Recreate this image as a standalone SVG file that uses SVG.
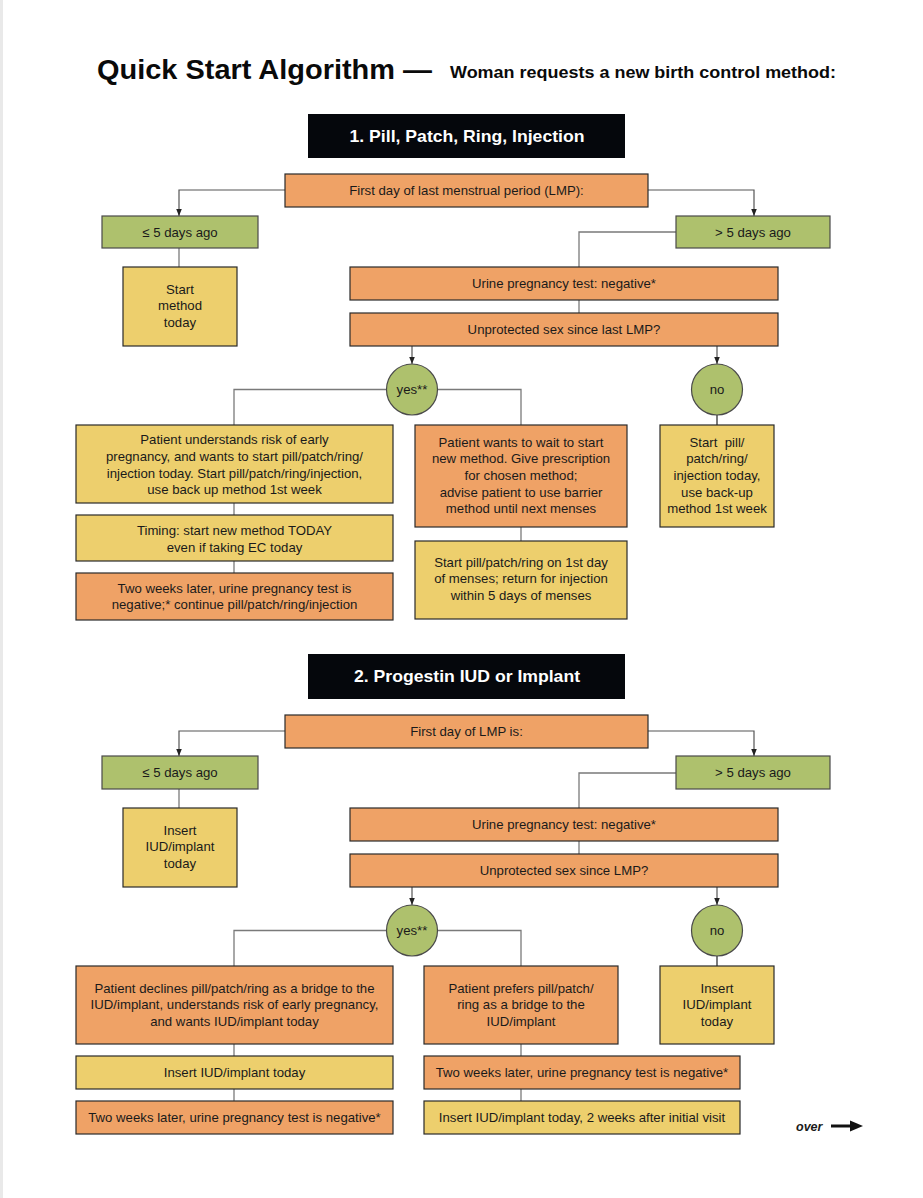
<svg xmlns="http://www.w3.org/2000/svg" width="923" height="1198" viewBox="0 0 923 1198">
<defs>
<style>
.t{font-family:"Liberation Sans",Arial,sans-serif;font-size:13.2px;fill:#1a1a1a;text-anchor:middle}
.h{font-family:"Liberation Sans",Arial,sans-serif;font-weight:bold;fill:#ffffff;text-anchor:middle}
.o{fill:#EFA266;stroke:#2a2a2a;stroke-width:1.2}
.g{fill:#AEC16D;stroke:#4a4a4a;stroke-width:1.2}
.y{fill:#EDCF6D;stroke:#2a2a2a;stroke-width:1.2}
.k{fill:#05070c}
.c{fill:none;stroke:#7a7a7a;stroke-width:1.3}
.ca{fill:none;stroke:#555;stroke-width:1.2;marker-end:url(#ah)}
</style>
<marker id="ah" viewBox="0 0 10 10" refX="10" refY="5" markerWidth="7" markerHeight="9" markerUnits="userSpaceOnUse" orient="auto">
<path d="M0,1 L10,5 L0,9 z" fill="#222"/>
</marker>
</defs>
<rect x="0" y="0" width="923" height="1198" fill="#ffffff"/>
<rect x="0" y="0" width="3" height="1198" fill="#e9e9e9"/>

<g id="title">
<text x="97" y="79" font-family="'Liberation Sans',Arial,sans-serif" font-weight="bold" font-size="28" fill="#0a0a0a" textLength="335" lengthAdjust="spacingAndGlyphs">Quick Start Algorithm —</text>
<text x="450" y="78" font-family="'Liberation Sans',Arial,sans-serif" font-weight="bold" font-size="17" fill="#0a0a0a" textLength="386" lengthAdjust="spacingAndGlyphs">Woman requests a new birth control method:</text>
</g>

<g id="connectors">
<path class="ca" d="M285,190 H179 V216"/>
<path class="ca" d="M648,190 H754 V216"/>
<path class="c" d="M179,248 V267"/>
<path class="c" d="M676,232 H579 V267"/>
<path class="c" d="M579,300 V313"/>
<path class="ca" d="M412,346 V364"/>
<path class="ca" d="M717,346 V364"/>
<path class="c" d="M386,389.5 H234 V425"/>
<path class="c" d="M438,389.5 H521 V425"/>
<path class="c" d="M717,415 V425" style="stroke:#333"/>
<path class="c" d="M234,503 V515"/>
<path class="c" d="M234,561 V573"/>
<path class="c" d="M521,527 V541"/>

<path class="ca" d="M285,731 H179 V756"/>
<path class="ca" d="M648,731 H754 V756"/>
<path class="c" d="M179,789 V808"/>
<path class="c" d="M676,773 H579 V808"/>
<path class="c" d="M579,841 V854"/>
<path class="ca" d="M412,887 V905"/>
<path class="ca" d="M717,887 V905"/>
<path class="c" d="M386,930.5 H234 V966"/>
<path class="c" d="M438,930.5 H521 V966"/>
<path class="c" d="M717,956 V966" style="stroke:#333"/>
<path class="c" d="M234,1044 V1056"/>
<path class="c" d="M234,1089 V1101"/>
<path class="c" d="M521,1044 V1056"/>
<path class="c" d="M521,1089 V1101"/>
</g>

<g id="header1">
<rect class="k" x="308" y="114" width="317" height="44"/>
<text class="h" x="467" y="142" font-size="16.5" textLength="235" lengthAdjust="spacingAndGlyphs">1. Pill, Patch, Ring, Injection</text>
</g>
<g id="lmp1">
<rect class="o" x="285" y="174" width="363" height="33"/>
<text class="t" x="466.5" y="195">First day of last menstrual period (LMP):</text>
</g>
<g id="le5a">
<rect class="g" x="102" y="216" width="156" height="32"/>
<text class="t" x="180" y="236.5">≤ 5 days ago</text>
</g>
<g id="gt5a">
<rect class="g" x="676" y="216" width="154" height="32"/>
<text class="t" x="753" y="236.5">&gt; 5 days ago</text>
</g>
<g id="startToday">
<rect class="y" x="123" y="267" width="114" height="79"/>
<text class="t" x="180" y="293.5">Start</text>
<text class="t" x="180" y="310.2">method</text>
<text class="t" x="180" y="327">today</text>
</g>
<g id="urine1">
<rect class="o" x="350" y="267" width="428" height="33"/>
<text class="t" x="564" y="288">Urine pregnancy test: negative*</text>
</g>
<g id="unprot1">
<rect class="o" x="350" y="313" width="428" height="33"/>
<text class="t" x="564" y="334">Unprotected sex since last LMP?</text>
</g>
<g id="yes1">
<circle cx="412" cy="389.5" r="25.5" fill="#AEC16D" stroke="#4a4a4a" stroke-width="1.2"/>
<text class="t" x="412" y="394">yes**</text>
</g>
<g id="no1">
<circle cx="717" cy="389.5" r="25.5" fill="#AEC16D" stroke="#4a4a4a" stroke-width="1.2"/>
<text class="t" x="717" y="394">no</text>
</g>
<g id="understands">
<rect class="y" x="76" y="425" width="317" height="78"/>
<text class="t" x="234.5" y="444">Patient understands risk of early</text>
<text class="t" x="234.5" y="460.8">pregnancy, and wants to start pill/patch/ring/</text>
<text class="t" x="234.5" y="477.5">injection today. Start pill/patch/ring/injection,</text>
<text class="t" x="234.5" y="494.2">use back up method 1st week</text>
</g>
<g id="timing">
<rect class="y" x="76" y="515" width="317" height="46"/>
<text class="t" x="234.5" y="535">Timing: start new method TODAY</text>
<text class="t" x="234.5" y="551.7">even if taking EC today</text>
</g>
<g id="twoWeeks1">
<rect class="o" x="76" y="573" width="317" height="47"/>
<text class="t" x="234.5" y="592.5">Two weeks later, urine pregnancy test is</text>
<text class="t" x="234.5" y="609.3">negative;* continue pill/patch/ring/injection</text>
</g>
<g id="wait">
<rect class="o" x="415" y="425" width="212" height="102"/>
<text class="t" x="521" y="446.5">Patient wants to wait to start</text>
<text class="t" x="521" y="463.2">new method. Give prescription</text>
<text class="t" x="521" y="480">for chosen method;</text>
<text class="t" x="521" y="496.7">advise patient to use barrier</text>
<text class="t" x="521" y="513.4">method until next menses</text>
</g>
<g id="startMenses">
<rect class="y" x="415" y="541" width="212" height="78"/>
<text class="t" x="521" y="566.7">Start pill/patch/ring on 1st day</text>
<text class="t" x="521" y="583.4">of menses; return for injection</text>
<text class="t" x="521" y="600.1">within 5 days of menses</text>
</g>
<g id="noStart">
<rect class="y" x="660" y="425" width="114" height="102"/>
<text class="t" x="717" y="446.5" xml:space="preserve">Start  pill/</text>
<text class="t" x="717" y="463.2">patch/ring/</text>
<text class="t" x="717" y="480">injection today,</text>
<text class="t" x="717" y="496.7">use back-up</text>
<text class="t" x="717" y="513.4">method 1st week</text>
</g>

<g id="header2">
<rect class="k" x="308" y="654" width="317" height="45"/>
<text class="h" x="467" y="682" font-size="16.5" textLength="226" lengthAdjust="spacingAndGlyphs">2. Progestin IUD or Implant</text>
</g>
<g id="lmp2">
<rect class="o" x="285" y="715" width="363" height="33"/>
<text class="t" x="466.5" y="736">First day of LMP is:</text>
</g>
<g id="le5b">
<rect class="g" x="102" y="756" width="156" height="33"/>
<text class="t" x="180" y="777">≤ 5 days ago</text>
</g>
<g id="gt5b">
<rect class="g" x="676" y="756" width="154" height="33"/>
<text class="t" x="753" y="777">&gt; 5 days ago</text>
</g>
<g id="insertToday">
<rect class="y" x="123" y="808" width="114" height="79"/>
<text class="t" x="180" y="834.5">Insert</text>
<text class="t" x="180" y="851.2">IUD/implant</text>
<text class="t" x="180" y="868">today</text>
</g>
<g id="urine2">
<rect class="o" x="350" y="808" width="428" height="33"/>
<text class="t" x="564" y="829">Urine pregnancy test: negative*</text>
</g>
<g id="unprot2">
<rect class="o" x="350" y="854" width="428" height="33"/>
<text class="t" x="564" y="875">Unprotected sex since LMP?</text>
</g>
<g id="yes2">
<circle cx="412" cy="930.5" r="25.5" fill="#AEC16D" stroke="#4a4a4a" stroke-width="1.2"/>
<text class="t" x="412" y="935">yes**</text>
</g>
<g id="no2">
<circle cx="717" cy="930.5" r="25.5" fill="#AEC16D" stroke="#4a4a4a" stroke-width="1.2"/>
<text class="t" x="717" y="935">no</text>
</g>
<g id="declines">
<rect class="o" x="76" y="966" width="317" height="78"/>
<text class="t" x="234.5" y="992.7">Patient declines pill/patch/ring as a bridge to the</text>
<text class="t" x="234.5" y="1009.4">IUD/implant, understands risk of early pregnancy,</text>
<text class="t" x="234.5" y="1026.2">and wants IUD/implant today</text>
</g>
<g id="insertToday2">
<rect class="y" x="76" y="1056" width="317" height="33"/>
<text class="t" x="234.5" y="1077">Insert IUD/implant today</text>
</g>
<g id="twoWeeks2">
<rect class="o" x="76" y="1101" width="317" height="33"/>
<text class="t" x="234.5" y="1122">Two weeks later, urine pregnancy test is negative*</text>
</g>
<g id="prefers">
<rect class="o" x="424" y="966" width="194" height="78"/>
<text class="t" x="521" y="992.7">Patient prefers pill/patch/</text>
<text class="t" x="521" y="1009.4">ring as a bridge to the</text>
<text class="t" x="521" y="1026.2">IUD/implant</text>
</g>
<g id="twoWeeks3">
<rect class="o" x="424" y="1056" width="316" height="33"/>
<text class="t" x="582" y="1077">Two weeks later, urine pregnancy test is negative*</text>
</g>
<g id="insertLater">
<rect class="y" x="424" y="1101" width="316" height="33"/>
<text class="t" x="582" y="1122">Insert IUD/implant today, 2 weeks after initial visit</text>
</g>
<g id="noInsert">
<rect class="y" x="660" y="966" width="114" height="78"/>
<text class="t" x="717" y="992.7">Insert</text>
<text class="t" x="717" y="1009.4">IUD/implant</text>
<text class="t" x="717" y="1026.2">today</text>
</g>

<g id="over">
<text x="796" y="1131" font-family="'Liberation Sans',Arial,sans-serif" font-weight="bold" font-style="italic" font-size="12.5" fill="#1a1a1a">over</text>
<path d="M831,1126 H853" stroke="#111" stroke-width="3"/>
<path d="M850,1120.5 L863,1126 L850,1131.5 z" fill="#111"/>
</g>
</svg>
